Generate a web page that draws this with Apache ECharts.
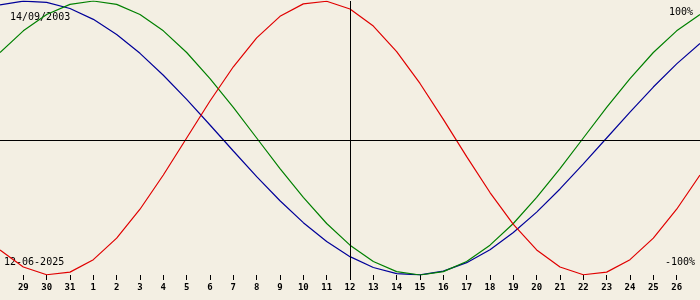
<!DOCTYPE html>
<html><head><meta charset="utf-8">
<style>html,body{margin:0;padding:0;background:#f3efe3}#c{width:700px;height:300px}</style>
<script src="https://cdn.jsdelivr.net/npm/echarts@6/dist/echarts.min.js"></script>
</head><body><div id="c"></div>
<script>
// day labels (28 May .. 27 June), centre = 12
const days = ['28','29','30','31','1','2','3','4','5','6','7','8','9','10','11','12','13','14','15','16','17','18','19','20','21','22','23','24','25','26','27'];
// percent values
const physical = [-81.7,-94.2,-99.8,-97.9,-88.8,-73.1,-52.0,-27.0,0,27.0,52.0,73.1,88.8,97.9,99.8,94.2,81.7,63.1,39.8,13.6,-13.6,-39.8,-63.1,-81.7,-94.2,-99.8,-97.9,-88.8,-73.1,-52.0,-27.0];
const emotional = [62.4,78.2,90.1,97.5,100,97.5,90.1,78.2,62.4,43.4,22.3,0,-22.3,-43.4,-62.4,-78.2,-90.1,-97.5,-100,-97.5,-90.1,-78.2,-62.4,-43.4,-22.3,0,22.3,43.4,62.4,78.2,90.1];
const intellectual = [97.2,99.9,99.0,94.5,86.6,75.6,61.8,45.8,28.2,9.5,-9.5,-28.2,-45.8,-61.8,-75.6,-86.6,-94.5,-99.0,-99.9,-97.2,-91.0,-81.5,-69.0,-54.1,-37.2,-18.9,0,18.9,37.2,54.1,69.0];
const birthDate = '14/09/2003';
const currentDate = '12-06-2025';
const topLabel = '100%';
const bottomLabel = '-100%';

const chart = echarts.init(document.getElementById('c'), null, {renderer:'canvas'});
const lineStyle = c => ({color:c, width:1.2});
const font = '10px "DejaVu Sans Mono"';
chart.setOption({
  backgroundColor:'#f3efe3',
  animation:false,
  grid:{left:0, right:0, top:1, height:274},
  xAxis:{type:'category', data:days, boundaryGap:false,
    axisLine:{show:false, onZero:false},
    axisTick:{show:true, length:5, lineStyle:{color:'#000'}, interval:(i)=> i>0 && i<days.length-1},
    axisLabel:{show:true, margin:8, color:'#000', fontFamily:'DejaVu Sans Mono', fontSize:9, fontWeight:'bold',
      interval:(i)=> i>0 && i<days.length-1},
    splitLine:{show:false}},
  yAxis:{type:'value', min:-100, max:100, show:false, splitLine:{show:false}},
  series:[
    {type:'line', data:physical, symbol:'none', lineStyle:lineStyle('#e00000'), z:3,
     markLine:{silent:true, symbol:'none', label:{show:false}, animation:false,
       lineStyle:{color:'#000', width:1, type:'solid'},
       data:[{xAxis:'12'},{yAxis:-1.5}]}},
    {type:'line', data:emotional, symbol:'none', lineStyle:lineStyle('#008000'), z:2},
    {type:'line', data:intellectual, symbol:'none', lineStyle:lineStyle('#000099'), z:1}
  ],
  graphic:[
    {type:'text', left:10, top:12, style:{text:birthDate, font:font, fill:'#000'}},
    {type:'text', left:4, top:257, style:{text:currentDate, font:font, fill:'#000'}},
    {type:'text', right:7, top:7, style:{text:topLabel, font:font, fill:'#000'}},
    {type:'text', right:5, top:257, style:{text:bottomLabel, font:font, fill:'#000'}}
  ]
});
</script></body></html>
